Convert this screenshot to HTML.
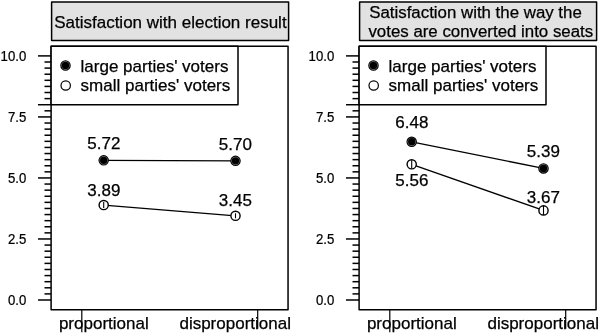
<!DOCTYPE html>
<html><head><meta charset="utf-8"><title>Satisfaction chart</title>
<style>html,body{margin:0;padding:0;background:#fff;}svg{display:block}text{font-family:"Liberation Sans",sans-serif;fill:#000;stroke:#000;stroke-width:0.25px}</style>
</head><body>
<svg width="600" height="334" viewBox="0 0 600 334">
<rect width="600" height="334" fill="#fff"/>
<rect x="51.60" y="2.0" width="237.00" height="38.60" fill="#e2e2e2" stroke="#000" stroke-width="1.5" stroke-linejoin="round"/>
<text x="170.40" y="27.7" font-size="17.0" text-anchor="middle">Satisfaction with election result</text>
<rect x="51.10" y="46.2" width="236.95" height="263.60" fill="#fff" stroke="#000" stroke-width="1.5" stroke-linejoin="round"/>
<line x1="38.00" x2="51.10" y1="300.00" y2="300.00" stroke="#000" stroke-width="1.5"/>
<text transform="translate(26.30,305.10) scale(0.91,1)" font-size="14.5" text-anchor="end">0.0</text>
<line x1="44.50" x2="51.10" y1="293.90" y2="293.90" stroke="#000" stroke-width="1.5"/>
<line x1="44.50" x2="51.10" y1="287.80" y2="287.80" stroke="#000" stroke-width="1.5"/>
<line x1="44.50" x2="51.10" y1="281.69" y2="281.69" stroke="#000" stroke-width="1.5"/>
<line x1="44.50" x2="51.10" y1="275.59" y2="275.59" stroke="#000" stroke-width="1.5"/>
<line x1="44.50" x2="51.10" y1="269.49" y2="269.49" stroke="#000" stroke-width="1.5"/>
<line x1="44.50" x2="51.10" y1="263.38" y2="263.38" stroke="#000" stroke-width="1.5"/>
<line x1="44.50" x2="51.10" y1="257.28" y2="257.28" stroke="#000" stroke-width="1.5"/>
<line x1="44.50" x2="51.10" y1="251.18" y2="251.18" stroke="#000" stroke-width="1.5"/>
<line x1="44.50" x2="51.10" y1="245.08" y2="245.08" stroke="#000" stroke-width="1.5"/>
<line x1="38.00" x2="51.10" y1="238.97" y2="238.97" stroke="#000" stroke-width="1.5"/>
<text transform="translate(26.30,244.07) scale(0.91,1)" font-size="14.5" text-anchor="end">2.5</text>
<line x1="44.50" x2="51.10" y1="232.87" y2="232.87" stroke="#000" stroke-width="1.5"/>
<line x1="44.50" x2="51.10" y1="226.77" y2="226.77" stroke="#000" stroke-width="1.5"/>
<line x1="44.50" x2="51.10" y1="220.67" y2="220.67" stroke="#000" stroke-width="1.5"/>
<line x1="44.50" x2="51.10" y1="214.56" y2="214.56" stroke="#000" stroke-width="1.5"/>
<line x1="44.50" x2="51.10" y1="208.46" y2="208.46" stroke="#000" stroke-width="1.5"/>
<line x1="44.50" x2="51.10" y1="202.36" y2="202.36" stroke="#000" stroke-width="1.5"/>
<line x1="44.50" x2="51.10" y1="196.26" y2="196.26" stroke="#000" stroke-width="1.5"/>
<line x1="44.50" x2="51.10" y1="190.16" y2="190.16" stroke="#000" stroke-width="1.5"/>
<line x1="44.50" x2="51.10" y1="184.05" y2="184.05" stroke="#000" stroke-width="1.5"/>
<line x1="38.00" x2="51.10" y1="177.95" y2="177.95" stroke="#000" stroke-width="1.5"/>
<text transform="translate(26.30,183.05) scale(0.91,1)" font-size="14.5" text-anchor="end">5.0</text>
<line x1="44.50" x2="51.10" y1="171.85" y2="171.85" stroke="#000" stroke-width="1.5"/>
<line x1="44.50" x2="51.10" y1="165.75" y2="165.75" stroke="#000" stroke-width="1.5"/>
<line x1="44.50" x2="51.10" y1="159.64" y2="159.64" stroke="#000" stroke-width="1.5"/>
<line x1="44.50" x2="51.10" y1="153.54" y2="153.54" stroke="#000" stroke-width="1.5"/>
<line x1="44.50" x2="51.10" y1="147.44" y2="147.44" stroke="#000" stroke-width="1.5"/>
<line x1="44.50" x2="51.10" y1="141.34" y2="141.34" stroke="#000" stroke-width="1.5"/>
<line x1="44.50" x2="51.10" y1="135.23" y2="135.23" stroke="#000" stroke-width="1.5"/>
<line x1="44.50" x2="51.10" y1="129.13" y2="129.13" stroke="#000" stroke-width="1.5"/>
<line x1="44.50" x2="51.10" y1="123.03" y2="123.03" stroke="#000" stroke-width="1.5"/>
<line x1="38.00" x2="51.10" y1="116.93" y2="116.93" stroke="#000" stroke-width="1.5"/>
<text transform="translate(26.30,122.03) scale(0.91,1)" font-size="14.5" text-anchor="end">7.5</text>
<line x1="44.50" x2="51.10" y1="110.82" y2="110.82" stroke="#000" stroke-width="1.5"/>
<line x1="38.00" x2="51.10" y1="104.72" y2="104.72" stroke="#000" stroke-width="1.5"/>
<line x1="44.50" x2="51.10" y1="98.62" y2="98.62" stroke="#000" stroke-width="1.5"/>
<line x1="44.50" x2="51.10" y1="92.51" y2="92.51" stroke="#000" stroke-width="1.5"/>
<line x1="44.50" x2="51.10" y1="86.41" y2="86.41" stroke="#000" stroke-width="1.5"/>
<line x1="44.50" x2="51.10" y1="80.31" y2="80.31" stroke="#000" stroke-width="1.5"/>
<line x1="44.50" x2="51.10" y1="74.21" y2="74.21" stroke="#000" stroke-width="1.5"/>
<line x1="44.50" x2="51.10" y1="68.10" y2="68.10" stroke="#000" stroke-width="1.5"/>
<line x1="44.50" x2="51.10" y1="62.00" y2="62.00" stroke="#000" stroke-width="1.5"/>
<line x1="38.00" x2="51.10" y1="55.90" y2="55.90" stroke="#000" stroke-width="1.5"/>
<text transform="translate(26.30,61.00) scale(0.91,1)" font-size="14.5" text-anchor="end">10.0</text>
<line x1="81.80" x2="81.80" y1="309.80" y2="332.3" stroke="#000" stroke-width="1.2"/>
<line x1="257.70" x2="257.70" y1="309.80" y2="328.8" stroke="#000" stroke-width="1.2"/>
<text x="103.80" y="328.8" font-size="17.0" text-anchor="middle">proportional</text>
<text x="235.20" y="328.8" font-size="17.0" text-anchor="middle">disproportional</text>
<rect x="51.10" y="46.2" width="186.9" height="58.5" fill="#fff" stroke="#000" stroke-width="1.5" stroke-linejoin="round"/>
<circle cx="65.50" cy="65.5" r="4.7" fill="#9a9a9a" stroke="#000" stroke-width="1.1"/>
<circle cx="65.50" cy="65.5" r="3.7" fill="#000"/>
<circle cx="65.70" cy="85.5" r="4.7" fill="#fff" stroke="#000" stroke-width="1.2"/>
<text x="80.60" y="71.6" font-size="17.0">large parties' voters</text>
<text x="80.60" y="91.3" font-size="17.0">small parties' voters</text>
<line x1="103.70" y1="160.37" x2="235.50" y2="160.86" stroke="#000" stroke-width="1.3"/>
<line x1="103.70" y1="205.05" x2="235.50" y2="215.79" stroke="#000" stroke-width="1.3"/>
<circle cx="103.70" cy="160.37" r="4.7" fill="#9a9a9a" stroke="#000" stroke-width="1.1"/>
<circle cx="103.70" cy="160.37" r="3.7" fill="#000"/>
<circle cx="235.50" cy="160.86" r="4.7" fill="#9a9a9a" stroke="#000" stroke-width="1.1"/>
<circle cx="235.50" cy="160.86" r="3.7" fill="#000"/>
<circle cx="103.70" cy="205.05" r="4.6" fill="#fff" stroke="#000" stroke-width="1.4"/>
<line x1="103.70" x2="103.70" y1="202.05" y2="208.05" stroke="#000" stroke-width="1.1"/>
<circle cx="235.50" cy="215.79" r="4.6" fill="#fff" stroke="#000" stroke-width="1.4"/>
<line x1="235.50" x2="235.50" y1="213.29" y2="218.29" stroke="#000" stroke-width="1.1"/>
<text x="103.80" y="148.80" font-size="17.0" text-anchor="middle">5.72</text>
<text x="235.40" y="149.50" font-size="17.0" text-anchor="middle">5.70</text>
<text x="103.80" y="195.80" font-size="17.0" text-anchor="middle">3.89</text>
<text x="235.40" y="205.50" font-size="17.0" text-anchor="middle">3.45</text>
<rect x="359.60" y="2.0" width="237.00" height="38.60" fill="#e2e2e2" stroke="#000" stroke-width="1.5" stroke-linejoin="round"/>
<text x="475.50" y="17.8" font-size="16.85" text-anchor="middle">Satisfaction with the way the</text>
<text x="480.80" y="36.9" font-size="16.85" text-anchor="middle">votes are converted into seats</text>
<rect x="359.10" y="46.2" width="236.95" height="263.60" fill="#fff" stroke="#000" stroke-width="1.5" stroke-linejoin="round"/>
<line x1="346.00" x2="359.10" y1="300.00" y2="300.00" stroke="#000" stroke-width="1.5"/>
<text transform="translate(334.30,305.10) scale(0.91,1)" font-size="14.5" text-anchor="end">0.0</text>
<line x1="352.50" x2="359.10" y1="293.90" y2="293.90" stroke="#000" stroke-width="1.5"/>
<line x1="352.50" x2="359.10" y1="287.80" y2="287.80" stroke="#000" stroke-width="1.5"/>
<line x1="352.50" x2="359.10" y1="281.69" y2="281.69" stroke="#000" stroke-width="1.5"/>
<line x1="352.50" x2="359.10" y1="275.59" y2="275.59" stroke="#000" stroke-width="1.5"/>
<line x1="352.50" x2="359.10" y1="269.49" y2="269.49" stroke="#000" stroke-width="1.5"/>
<line x1="352.50" x2="359.10" y1="263.38" y2="263.38" stroke="#000" stroke-width="1.5"/>
<line x1="352.50" x2="359.10" y1="257.28" y2="257.28" stroke="#000" stroke-width="1.5"/>
<line x1="352.50" x2="359.10" y1="251.18" y2="251.18" stroke="#000" stroke-width="1.5"/>
<line x1="352.50" x2="359.10" y1="245.08" y2="245.08" stroke="#000" stroke-width="1.5"/>
<line x1="346.00" x2="359.10" y1="238.97" y2="238.97" stroke="#000" stroke-width="1.5"/>
<text transform="translate(334.30,244.07) scale(0.91,1)" font-size="14.5" text-anchor="end">2.5</text>
<line x1="352.50" x2="359.10" y1="232.87" y2="232.87" stroke="#000" stroke-width="1.5"/>
<line x1="352.50" x2="359.10" y1="226.77" y2="226.77" stroke="#000" stroke-width="1.5"/>
<line x1="352.50" x2="359.10" y1="220.67" y2="220.67" stroke="#000" stroke-width="1.5"/>
<line x1="352.50" x2="359.10" y1="214.56" y2="214.56" stroke="#000" stroke-width="1.5"/>
<line x1="352.50" x2="359.10" y1="208.46" y2="208.46" stroke="#000" stroke-width="1.5"/>
<line x1="352.50" x2="359.10" y1="202.36" y2="202.36" stroke="#000" stroke-width="1.5"/>
<line x1="352.50" x2="359.10" y1="196.26" y2="196.26" stroke="#000" stroke-width="1.5"/>
<line x1="352.50" x2="359.10" y1="190.16" y2="190.16" stroke="#000" stroke-width="1.5"/>
<line x1="352.50" x2="359.10" y1="184.05" y2="184.05" stroke="#000" stroke-width="1.5"/>
<line x1="346.00" x2="359.10" y1="177.95" y2="177.95" stroke="#000" stroke-width="1.5"/>
<text transform="translate(334.30,183.05) scale(0.91,1)" font-size="14.5" text-anchor="end">5.0</text>
<line x1="352.50" x2="359.10" y1="171.85" y2="171.85" stroke="#000" stroke-width="1.5"/>
<line x1="352.50" x2="359.10" y1="165.75" y2="165.75" stroke="#000" stroke-width="1.5"/>
<line x1="352.50" x2="359.10" y1="159.64" y2="159.64" stroke="#000" stroke-width="1.5"/>
<line x1="352.50" x2="359.10" y1="153.54" y2="153.54" stroke="#000" stroke-width="1.5"/>
<line x1="352.50" x2="359.10" y1="147.44" y2="147.44" stroke="#000" stroke-width="1.5"/>
<line x1="352.50" x2="359.10" y1="141.34" y2="141.34" stroke="#000" stroke-width="1.5"/>
<line x1="352.50" x2="359.10" y1="135.23" y2="135.23" stroke="#000" stroke-width="1.5"/>
<line x1="352.50" x2="359.10" y1="129.13" y2="129.13" stroke="#000" stroke-width="1.5"/>
<line x1="352.50" x2="359.10" y1="123.03" y2="123.03" stroke="#000" stroke-width="1.5"/>
<line x1="346.00" x2="359.10" y1="116.93" y2="116.93" stroke="#000" stroke-width="1.5"/>
<text transform="translate(334.30,122.03) scale(0.91,1)" font-size="14.5" text-anchor="end">7.5</text>
<line x1="352.50" x2="359.10" y1="110.82" y2="110.82" stroke="#000" stroke-width="1.5"/>
<line x1="346.00" x2="359.10" y1="104.72" y2="104.72" stroke="#000" stroke-width="1.5"/>
<line x1="352.50" x2="359.10" y1="98.62" y2="98.62" stroke="#000" stroke-width="1.5"/>
<line x1="352.50" x2="359.10" y1="92.51" y2="92.51" stroke="#000" stroke-width="1.5"/>
<line x1="352.50" x2="359.10" y1="86.41" y2="86.41" stroke="#000" stroke-width="1.5"/>
<line x1="352.50" x2="359.10" y1="80.31" y2="80.31" stroke="#000" stroke-width="1.5"/>
<line x1="352.50" x2="359.10" y1="74.21" y2="74.21" stroke="#000" stroke-width="1.5"/>
<line x1="352.50" x2="359.10" y1="68.10" y2="68.10" stroke="#000" stroke-width="1.5"/>
<line x1="352.50" x2="359.10" y1="62.00" y2="62.00" stroke="#000" stroke-width="1.5"/>
<line x1="346.00" x2="359.10" y1="55.90" y2="55.90" stroke="#000" stroke-width="1.5"/>
<text transform="translate(334.30,61.00) scale(0.91,1)" font-size="14.5" text-anchor="end">10.0</text>
<line x1="389.80" x2="389.80" y1="309.80" y2="332.3" stroke="#000" stroke-width="1.2"/>
<line x1="565.70" x2="565.70" y1="309.80" y2="328.8" stroke="#000" stroke-width="1.2"/>
<text x="411.80" y="328.8" font-size="17.0" text-anchor="middle">proportional</text>
<text x="543.20" y="328.8" font-size="17.0" text-anchor="middle">disproportional</text>
<rect x="359.10" y="46.2" width="186.9" height="58.5" fill="#fff" stroke="#000" stroke-width="1.5" stroke-linejoin="round"/>
<circle cx="373.50" cy="65.5" r="4.7" fill="#9a9a9a" stroke="#000" stroke-width="1.1"/>
<circle cx="373.50" cy="65.5" r="3.7" fill="#000"/>
<circle cx="373.70" cy="85.5" r="4.7" fill="#fff" stroke="#000" stroke-width="1.2"/>
<text x="388.60" y="71.6" font-size="17.0">large parties' voters</text>
<text x="388.60" y="91.3" font-size="17.0">small parties' voters</text>
<line x1="411.70" y1="141.82" x2="543.50" y2="168.43" stroke="#000" stroke-width="1.3"/>
<line x1="411.70" y1="164.28" x2="543.50" y2="210.42" stroke="#000" stroke-width="1.3"/>
<circle cx="411.70" cy="141.82" r="4.7" fill="#9a9a9a" stroke="#000" stroke-width="1.1"/>
<circle cx="411.70" cy="141.82" r="3.7" fill="#000"/>
<circle cx="543.50" cy="168.43" r="4.7" fill="#9a9a9a" stroke="#000" stroke-width="1.1"/>
<circle cx="543.50" cy="168.43" r="3.7" fill="#000"/>
<circle cx="411.70" cy="164.28" r="4.6" fill="#fff" stroke="#000" stroke-width="1.4"/>
<line x1="411.70" x2="411.70" y1="160.28" y2="168.28" stroke="#000" stroke-width="1.1"/>
<circle cx="543.50" cy="210.42" r="4.6" fill="#fff" stroke="#000" stroke-width="1.4"/>
<line x1="543.50" x2="543.50" y1="206.02" y2="214.82" stroke="#000" stroke-width="1.1"/>
<text x="411.90" y="127.80" font-size="17.0" text-anchor="middle">6.48</text>
<text x="543.40" y="156.50" font-size="17.0" text-anchor="middle">5.39</text>
<text x="411.80" y="185.50" font-size="17.0" text-anchor="middle">5.56</text>
<text x="543.40" y="203.00" font-size="17.0" text-anchor="middle">3.67</text>
</svg>
</body></html>
